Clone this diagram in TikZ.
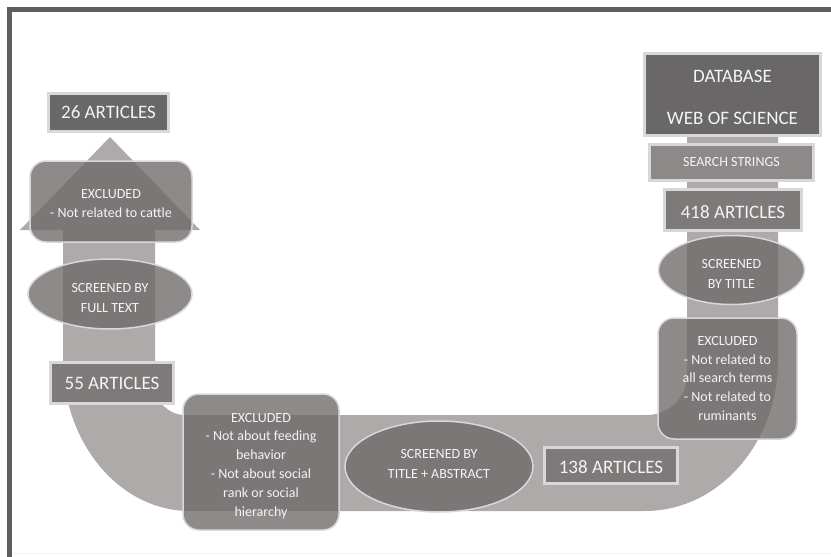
\documentclass[tikz,border=0pt]{standalone}
\usepackage{fontspec}
\setmainfont{Carlito}
\usetikzlibrary{shapes.geometric}
\definecolor{framec}{HTML}{5E5E5E}
\definecolor{bandc}{HTML}{ADAAA9}
\definecolor{darkfill}{HTML}{696767}
\definecolor{midfill}{HTML}{7D7A79}
\definecolor{lightfill}{HTML}{8C8988}
\definecolor{trfill}{HTML}{6C6868}
\definecolor{rim}{HTML}{D8D8D8}
\definecolor{txt}{HTML}{F4F4F4}
\definecolor{faint}{HTML}{F3F3F3}
\newcommand\toppad[1]{\rule{0pt}{#1}}
\newcommand\botpad[1]{\rule[-#1]{0pt}{#1}}
\begin{document}
\begin{tikzpicture}[x=1pt,y=1pt,
 box/.style={rectangle, draw=rim, line width=3pt, text=txt, inner sep=0pt, font=\fontsize{19}{23}\selectfont},
 darkbox/.style={box, fill=darkfill},
 midbox/.style={box, fill=midfill},
 lightbox/.style={box, fill=lightfill, font=\fontsize{14}{17}\selectfont},
 exclbox/.style={rectangle, rounded corners=16pt, draw=rim, line width=1.5pt, fill=trfill, fill opacity=0.77, text opacity=1, text=txt, align=center, inner sep=0pt, font=\fontsize{14}{18.8}\selectfont},
 oval/.style={ellipse, draw=rim, line width=1.5pt, fill=trfill, fill opacity=0.77, text opacity=1, text=txt, align=center, inner sep=0pt, font=\fontsize{14}{20}\selectfont}]

\useasboundingbox (0,0) rectangle (831,-557);
\fill[white] (0,0) rectangle (831,-557);
% frame
\draw[framec, line width=4.7pt] (831,-9.7) -- (9.5,-9.7) -- (9.5,-557);
\draw[faint, line width=1pt] (12,-553) -- (831,-553);

% U-shaped arrow band
\fill[bandc] (155,-230) -- (200,-230) -- (110,-137) -- (20,-230) -- (63,-230) -- (63,-360)
 arc[start angle=180, end angle=270, x radius=127pt, y radius=151pt]
 -- (645,-511) arc[start angle=270, end angle=360, x radius=133pt, y radius=151pt]
 -- (778,-95) -- (687,-95) -- (687,-375)
 arc[start angle=0, end angle=-90, radius=40pt]
 -- (185,-415) arc[start angle=270, end angle=180, radius=30pt] -- cycle;

\node[darkbox, minimum width=176pt, minimum height=82pt, align=center, font=\fontsize{19}{42}\selectfont] (db) at (732.5,-94.5) {\toppad{18.5pt}DATABASE\\WEB OF SCIENCE};
\node[lightbox, minimum width=164pt, minimum height=36pt] (ss) at (731.5,-162.5) {SEARCH STRINGS};
\node[midbox, minimum width=137pt, minimum height=41pt] (a418) at (733,-210) {\toppad{16.5pt}418 ARTICLES};
\node[oval, minimum width=146pt, minimum height=69pt] (st) at (731.5,-270) {\toppad{17pt}SCREENED\\BY TITLE};
\node[exclbox, minimum width=139pt, minimum height=121pt] (ex1) at (727.5,-378.5) {EXCLUDED\\- Not related to\\all search terms\\- Not related to\\ruminants};
\node[midbox, minimum width=133pt, minimum height=36pt] (a138) at (611,-465.5) {\toppad{16.5pt}138 ARTICLES};
\node[oval, minimum width=188pt, minimum height=91pt] (sta) at (439,-466.5) {SCREENED BY\\TITLE + ABSTRACT\botpad{6pt}};
\node[exclbox, minimum width=156pt, minimum height=136pt] (ex2) at (261,-462) {\toppad{16.5pt}EXCLUDED\\- Not about feeding\\behavior\\- Not about social\\rank or social\\hierarchy};
\node[midbox, minimum width=123pt, minimum height=41pt] (a55) at (112,-383) {55 ARTICLES};
\node[oval, minimum width=164pt, minimum height=70pt] (sft) at (110,-294) {\toppad{17pt}SCREENED BY\\FULL TEXT};
\node[exclbox, minimum width=162pt, minimum height=81pt] (ex3) at (111,-201.5) {\toppad{13.5pt}EXCLUDED\\- Not related to cattle};
\node[darkbox, minimum width=120pt, minimum height=38pt] (a26) at (108.5,-112.5) {26 ARTICLES};
\end{tikzpicture}
\end{document}
